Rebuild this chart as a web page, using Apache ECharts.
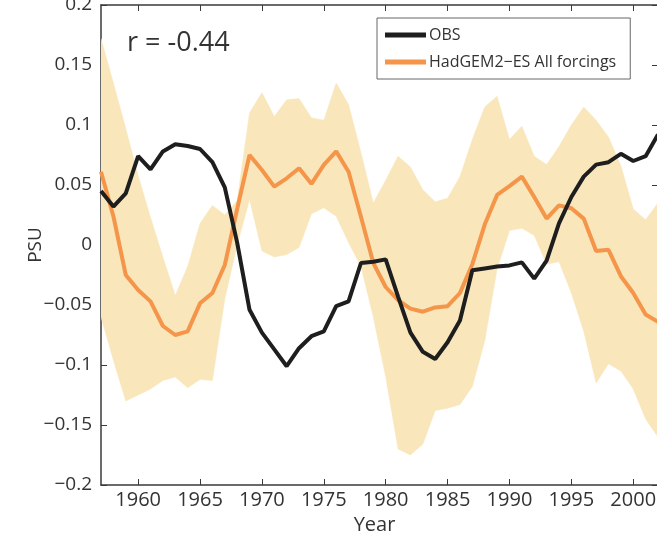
<!DOCTYPE html>
<html><head><meta charset="utf-8">
<script src="https://cdn.jsdelivr.net/npm/echarts@6/dist/echarts.min.js"></script>
<style>html,body{margin:0;padding:0;background:#fff}#c{width:657px;height:533px}</style>
</head><body><div id="c"></div>
<script>
const years = [1957,1958,1959,1960,1961,1962,1963,1964,1965,1966,1967,1968,1969,1970,1971,1972,1973,1974,1975,1976,1977,1978,1979,1980,1981,1982,1983,1984,1985,1986,1987,1988,1989,1990,1991,1992,1993,1994,1995,1996,1997,1998,1999,2000,2001,2002];
const obs = [0.045,0.032,0.043,0.074,0.063,0.078,0.084,0.0825,0.080,0.069,0.048,0.002,-0.054,-0.073,-0.087,-0.101,-0.086,-0.076,-0.072,-0.051,-0.047,-0.015,-0.014,-0.012,-0.043,-0.073,-0.089,-0.095,-0.081,-0.063,-0.021,-0.0195,-0.018,-0.017,-0.0145,-0.028,-0.013,0.018,0.040,0.057,0.067,0.069,0.076,0.070,0.074,0.092];
const model = [0.061,0.024,-0.025,-0.0375,-0.047,-0.0675,-0.075,-0.072,-0.0486,-0.040,-0.0167,0.030,0.075,0.0625,0.0486,0.0556,0.064,0.051,0.0667,0.078,0.061,0.0236,-0.015,-0.035,-0.046,-0.053,-0.0556,-0.052,-0.051,-0.040,-0.016,0.017,0.0417,0.049,0.057,0.040,0.022,0.033,0.0306,0.022,-0.005,-0.004,-0.026,-0.040,-0.058,-0.064];
const bandUpper = [0.172,0.135,0.097,0.058,0.023,-0.010,-0.042,-0.018,0.018,0.033,0.025,0.037,0.110,0.127,0.107,0.121,0.122,0.106,0.104,0.135,0.117,0.077,0.035,0.054,0.074,0.065,0.046,0.036,0.039,0.057,0.088,0.115,0.124,0.088,0.099,0.074,0.067,0.082,0.100,0.115,0.104,0.090,0.066,0.030,0.021,0.035];
const bandLower = [-0.060,-0.096,-0.130,-0.125,-0.120,-0.113,-0.110,-0.119,-0.112,-0.113,-0.045,0.000,0.038,-0.005,-0.010,-0.008,-0.002,0.026,0.031,0.024,0.002,-0.018,-0.060,-0.110,-0.170,-0.175,-0.166,-0.138,-0.136,-0.133,-0.118,-0.080,-0.020,0.012,0.014,0.008,-0.016,-0.014,-0.040,-0.072,-0.115,-0.099,-0.105,-0.120,-0.145,-0.160];
const xTicks = [1960,1965,1970,1975,1980,1985,1990,1995,2000];
const yTickValues = [-0.2,-0.15,-0.1,-0.05,0,0.05,0.1,0.15,0.2];
const yTickLabels = ['\u22120.2','\u22120.15','\u22120.1','\u22120.05','0','0.05','0.1','0.15','0.2'];
const obsName = 'OBS';
const modelName = 'HadGEM2\u2212ES All forcings';
const rText = 'r = -0.44';

const FONT = 'Open Sans';
const axisCol = '#3a3a3a';
const textCol = '#333';

function yLabel(v){
  for (let i=0;i<yTickValues.length;i++){ if (Math.abs(v-yTickValues[i])<1e-9) return yTickLabels[i]; }
  return '';
}
const pairs = a => years.map((y,i)=>[y,a[i]]);
const bandData = years.map((y,i)=>[y, bandLower[i], bandUpper[i]]);

function renderBand(params, api){
  if (params.dataIndex !== 0) return null;
  const pts = [];
  for (let i=0;i<bandData.length;i++) pts.push(api.coord([bandData[i][0], bandData[i][2]]));
  for (let i=bandData.length-1;i>=0;i--) pts.push(api.coord([bandData[i][0], bandData[i][1]]));
  return {type:'polygon', shape:{points:pts}, style:{fill:'#f9e6bb', stroke:'#f9e6bb', lineWidth:0.5}};
}

const chart = echarts.init(document.getElementById('c'), null, {renderer:'canvas'});
chart.setOption({
  animation:false,
  backgroundColor:'#fff',
  grid:{left:101, top:5, width:557, height:480, containLabel:false, outerBoundsMode:'none'},
  xAxis:[{
    type:'value', min:1957, max:2002, position:'bottom',
    axisLine:{show:true, onZero:false, lineStyle:{color:axisCol, width:1.5}},
    axisTick:{show:true, inside:true, length:6, customValues:xTicks, lineStyle:{color:axisCol}},
    axisLabel:{customValues:xTicks, formatter:v=>String(v), fontFamily:FONT, fontSize:20, color:textCol, margin:5},
    splitLine:{show:false},
    name:'Year', nameLocation:'middle', nameGap:30,
    nameTextStyle:{fontFamily:FONT, fontSize:20, color:textCol, padding:[0,10,0,0]}
  },{
    type:'value', min:1957, max:2002, position:'top',
    axisLine:{show:true, onZero:false, lineStyle:{color:axisCol, width:1.5}},
    axisTick:{show:true, inside:true, length:6, customValues:xTicks, lineStyle:{color:axisCol}},
    axisLabel:{show:false}, splitLine:{show:false}
  }],
  yAxis:[{
    type:'value', min:-0.2, max:0.2, interval:0.05, position:'left',
    axisLine:{show:true, onZero:false, lineStyle:{color:axisCol, width:1.5}},
    axisTick:{show:true, inside:true, length:6, lineStyle:{color:axisCol}},
    axisLabel:{formatter:yLabel, fontFamily:FONT, fontSize:19, color:textCol, margin:9},
    splitLine:{show:false},
    name:'PSU', nameLocation:'middle', nameGap:56, nameMoveOverlap:false,
    nameTextStyle:{fontFamily:FONT, fontSize:19, color:textCol}
  },{
    type:'value', min:-0.2, max:0.2, interval:0.05, position:'right',
    axisLine:{show:true, onZero:false, lineStyle:{color:axisCol, width:1.5}},
    axisTick:{show:true, inside:true, length:6, lineStyle:{color:axisCol}},
    axisLabel:{show:false}, splitLine:{show:false}
  }],
  legend:{
    show:true, orient:'vertical', left:377, top:18,
    data:[obsName, modelName],
    itemWidth:41, itemHeight:5, itemGap:11,
    icon:'rect',
    borderColor:'#666', borderWidth:1, padding:[9,14,9,8],
    backgroundColor:'#fff',
    textStyle:{fontFamily:FONT, fontSize:16, color:textCol, padding:[0,0,0,-2]}
  },
  graphic:[{
    type:'text', left:127, top:30,
    style:{text:rText, font:'27px "Open Sans"', fill:textCol}
  }],
  series:[{
    name:'band', type:'custom', renderItem:renderBand, data:bandData,
    encode:{x:0, y:[1,2]}, silent:true, z:1, clip:true
  },{
    name:modelName, type:'line', data:pairs(model), symbol:'none',
    lineStyle:{color:'#f4954a', width:4}, itemStyle:{color:'#f4954a'}, z:3
  },{
    name:obsName, type:'line', data:pairs(obs), symbol:'none',
    lineStyle:{color:'#1e1e1e', width:4}, itemStyle:{color:'#1e1e1e'}, z:4
  }]
});
</script></body></html>
